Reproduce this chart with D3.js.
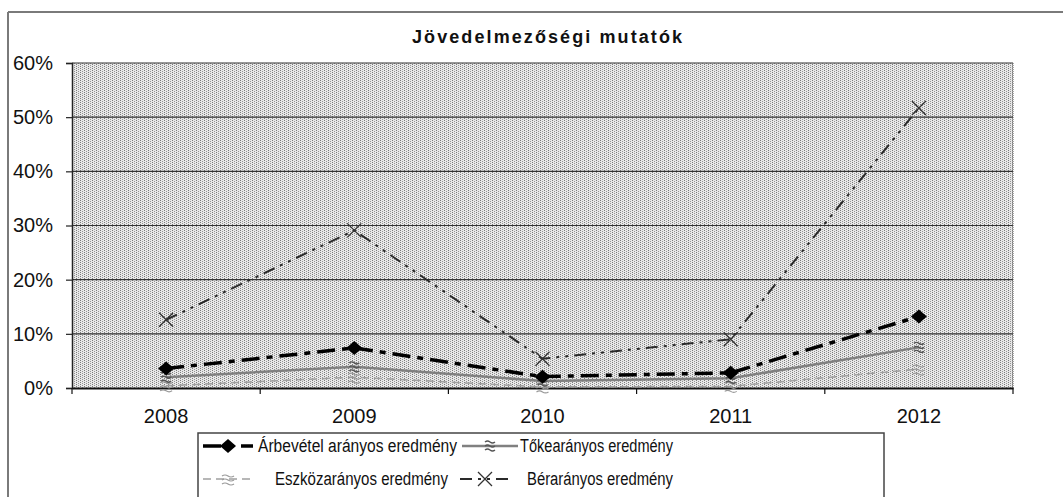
<!DOCTYPE html>
<html>
<head>
<meta charset="utf-8">
<title>Jövedelmezőségi mutatók</title>
<style>
	body{ margin:0; background:#fff; }
	svg text{ font-family:"Liberation Sans", Arial, sans-serif; fill:#111; }
</style>
</head>
<body>
<div id="chart"></div>
<script src="https://d3js.org/d3.v7.min.js"></script>
<script type="text/javascript">

// adatok (százalékban)
var years = ['2008','2009','2010','2011','2012'],
	arbevetel = [3.6, 7.4, 2.1, 2.8, 13.2],
	toke = [2.0, 3.9, 1.3, 1.8, 7.5],
	eszkoz = [0.4, 2.0, 0.2, 0.3, 3.5],
	ber = [12.6, 29.1, 5.4, 9.0, 51.7],
	yTicks = [0, 10, 20, 30, 40, 50, 60];

var series = [
	{name:'Árbevétel arányos eredmény', values:arbevetel, color:'#000', width:3.5, dash:'18,7,6,7', marker:'diamond'},
	{name:'Tőkearányos eredmény', values:toke, color:'#808080', width:2.5, dash:null, marker:'wave'},
	{name:'Eszközarányos eredmény', values:eszkoz, color:'#a0a0a0', width:1.5, dash:'8,5', marker:'wave2'},
	{name:'Bérarányos eredmény', values:ber, color:'#2a2a2a', width:2, dash:'12,6,3,6,3,6', marker:'cross'}
];

var W = 1063, H = 497,
	plot = {left:72, right:1013, top:63, bottom:388};

var svg = d3.select('#chart').append('svg').attr('width', W).attr('height', H);

var defs = svg.append('defs');
var pat = defs.append('pattern').attr('id','dither').attr('patternUnits','userSpaceOnUse')
	.attr('width',4).attr('height',2);
pat.append('rect').attr('width',4).attr('height',2).attr('fill','#e8e8e8');
pat.append('rect').attr('x',0).attr('y',0).attr('width',1).attr('height',1).attr('fill','#7a7a7a');
pat.append('rect').attr('x',2).attr('y',1).attr('width',1).attr('height',1).attr('fill','#959595');

// keret
svg.append('line').attr('x1',8).attr('x2',W).attr('y1',12).attr('y2',12).attr('stroke','#7a7a7a').attr('stroke-width',2);
svg.append('line').attr('x1',8).attr('x2',8).attr('y1',12).attr('y2',H).attr('stroke','#7a7a7a').attr('stroke-width',2);

svg.append('text').attr('x',547).attr('y',43).attr('text-anchor','middle')
	.style('font-weight','bold').style('font-size','18px')
	.attr('textLength',270).attr('lengthAdjust','spacing')
	.text('Jövedelmezőségi mutatók');

var x = d3.scaleBand().domain(years).range([plot.left, plot.right]),
	y = d3.scaleLinear().domain([0, 60]).range([plot.bottom, plot.top]);

svg.append('rect').attr('x',plot.left).attr('y',plot.top)
	.attr('width',plot.right-plot.left).attr('height',plot.bottom-plot.top)
	.attr('fill','url(#dither)');

// rácsvonalak
svg.append('g').selectAll('line').data(yTicks.slice(1)).join('line')
	.attr('x1',plot.left).attr('x2',plot.right)
	.attr('y1',d => y(d)).attr('y2',d => y(d))
	.attr('stroke','#333').attr('stroke-width',1.2);

svg.append('line').attr('x1',plot.right).attr('x2',plot.right).attr('y1',plot.top).attr('y2',plot.bottom)
	.attr('stroke','#555').attr('stroke-dasharray','1,1');

var yAxis = svg.append('g').attr('transform','translate(' + plot.left + ',0)')
	.call(d3.axisLeft(y).tickValues(yTicks).tickSize(6).tickPadding(13).tickFormat(d => d + '%'));
yAxis.select('.domain').attr('stroke','#222').attr('stroke-width',1.5);
yAxis.selectAll('.tick line').attr('stroke','#222').attr('stroke-width',1.2);
yAxis.selectAll('text').style('font-size','20px').attr('fill','#111');

var xAxis = svg.append('g').attr('transform','translate(0,' + plot.bottom + ')')
	.call(d3.axisBottom(x).tickSize(0).tickPadding(21));
xAxis.select('.domain').attr('stroke','#111').attr('stroke-width',2);
xAxis.selectAll('text').style('font-size','20px').attr('fill','#111');

var edges = years.map(d => x(d)).concat([plot.right]);
svg.append('g').selectAll('line').data(edges).join('line')
	.attr('x1',d => d).attr('x2',d => d).attr('y1',plot.bottom).attr('y2',plot.bottom+6)
	.attr('stroke','#111').attr('stroke-width',1.2);

var cx = d => x(d) + x.bandwidth()/2;

function drawMarker(g, type, color){
	if(type === 'diamond'){
		g.append('path').attr('d','M0,-7L8,0L0,7L-8,0Z').attr('fill','#000');
	}else if(type === 'cross'){
		g.append('path').attr('d','M-7,-7L7,7M-7,7L7,-7').attr('stroke','#333').attr('stroke-width',1.3).attr('fill','none');
	}else if(type === 'wave'){
		g.append('path').attr('d','M-5,-4q2.5,-2 5,0t5,0M-5,0q2.5,-2 5,0t5,0M-5,4q2.5,-2 5,0t5,0')
			.attr('stroke','#555').attr('stroke-width',1.4).attr('fill','none');
	}else{
		g.append('path').attr('d','M-6,-3q3,-2 6,0t6,0M-6,1q3,-2 6,0t6,0M-6,5q3,-2 6,0t6,0')
			.attr('stroke','#999').attr('stroke-width',1.2).attr('fill','none');
	}
}

var line = d3.line().x((d,i) => cx(years[i])).y(d => y(d));

series.slice().reverse().forEach(function(s){
	svg.append('path').datum(s.values).attr('d', line)
		.attr('fill','none').attr('stroke', s.color).attr('stroke-width', s.width)
		.attr('stroke-dasharray', s.dash);
	s.values.forEach(function(v,i){
		drawMarker(svg.append('g').attr('transform','translate(' + cx(years[i]) + ',' + y(v) + ')'), s.marker, s.color);
	});
});

// jelmagyarázat
svg.append('rect').attr('x',198).attr('y',433).attr('width',686).attr('height',80)
	.attr('fill','#fff').attr('stroke','#444').attr('stroke-width',1.5);

var legendPos = [
	{x0:203, x1:253, tx:258, ty:446, tl:199},
	{x0:462, x1:518, tx:520, ty:446, tl:153},
	{x0:203, x1:253, tx:275, ty:479, tl:173},
	{x0:460, x1:510, tx:527, ty:479, tl:146}
];

series.forEach(function(s,i){
	var p = legendPos[i];
	svg.append('line').attr('x1',p.x0).attr('x2',p.x1).attr('y1',p.ty).attr('y2',p.ty)
		.attr('stroke', s.color).attr('stroke-width', s.width).attr('stroke-dasharray', s.dash);
	drawMarker(svg.append('g').attr('transform','translate(' + ((p.x0+p.x1)/2) + ',' + p.ty + ')'), s.marker, s.color);
	svg.append('text').attr('x',p.tx).attr('y',p.ty).attr('dy','0.35em')
		.style('font-size','18px').attr('textLength',p.tl).attr('lengthAdjust','spacingAndGlyphs')
		.text(s.name);
});

</script>
</body>
</html>
